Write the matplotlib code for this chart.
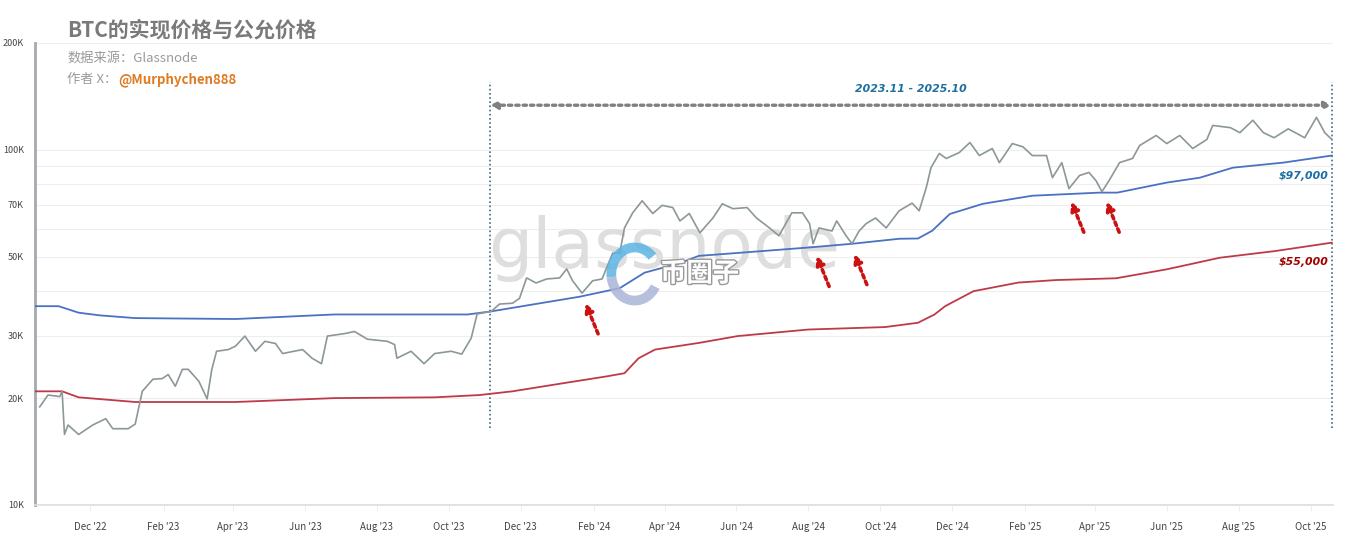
import matplotlib
matplotlib.use("Agg")
import matplotlib.pyplot as plt
import matplotlib.dates as mdates
import matplotlib.ticker as mticker
import matplotlib.patheffects as pe
from matplotlib.patches import Arc
import pandas as pd

plt.rcParams["font.family"] = ["Noto Sans CJK SC", "DejaVu Sans"]

# --- Data (values in USD) ---
price_dates = [
    "2022-10-19", "2022-10-26", "2022-11-05", "2022-11-07", "2022-11-09", "2022-11-12",
    "2022-11-21", "2022-12-03", "2022-12-14", "2022-12-20", "2023-01-02", "2023-01-08",
    "2023-01-14", "2023-01-23", "2023-01-31", "2023-02-05", "2023-02-11", "2023-02-17",
    "2023-02-22", "2023-03-03", "2023-03-10", "2023-03-14", "2023-03-18", "2023-03-28",
    "2023-04-03", "2023-04-11", "2023-04-20", "2023-04-28", "2023-05-07", "2023-05-13",
    "2023-05-30", "2023-06-07", "2023-06-15", "2023-06-20", "2023-07-05", "2023-07-13",
    "2023-07-24", "2023-08-10", "2023-08-16", "2023-08-18", "2023-08-30", "2023-09-10",
    "2023-09-19", "2023-10-03", "2023-10-12", "2023-10-20", "2023-10-25", "2023-11-06",
    "2023-11-13", "2023-11-24", "2023-11-30", "2023-12-06", "2023-12-14", "2023-12-23",
    "2024-01-03", "2024-01-09", "2024-01-14", "2024-01-22", "2024-01-31", "2024-02-08",
    "2024-02-17", "2024-02-23", "2024-02-27", "2024-03-05", "2024-03-13", "2024-03-22",
    "2024-03-30", "2024-04-08", "2024-04-14", "2024-04-22", "2024-05-01", "2024-05-12",
    "2024-05-20", "2024-05-29", "2024-06-10", "2024-06-18", "2024-06-29", "2024-07-07",
    "2024-07-18", "2024-07-27", "2024-08-02", "2024-08-05", "2024-08-10", "2024-08-21",
    "2024-08-25", "2024-09-02", "2024-09-07", "2024-09-13", "2024-09-19", "2024-09-27",
    "2024-10-06", "2024-10-17", "2024-10-28", "2024-11-03", "2024-11-09", "2024-11-13",
    "2024-11-20", "2024-11-26", "2024-12-07", "2024-12-16", "2024-12-24", "2025-01-04",
    "2025-01-10", "2025-01-21", "2025-01-30", "2025-02-07", "2025-02-19", "2025-02-24",
    "2025-03-04", "2025-03-10", "2025-03-19", "2025-03-27", "2025-04-02", "2025-04-07",
    "2025-04-13", "2025-04-22", "2025-05-03", "2025-05-09", "2025-05-23", "2025-06-01",
    "2025-06-12", "2025-06-23", "2025-07-05", "2025-07-10", "2025-07-25", "2025-08-02",
    "2025-08-13", "2025-08-22", "2025-08-31", "2025-09-12", "2025-09-26", "2025-10-06",
    "2025-10-13", "2025-10-19",
]
price_values = [
    18900, 20400, 20200, 20900, 15800, 16800,
    15800, 16800, 17500, 16400, 16400, 16900,
    20900, 22600, 22700, 23300, 21600, 24100,
    24100, 22300, 19900, 24100, 27100, 27400,
    28000, 29900, 27100, 28900, 28500, 26700,
    27400, 25900, 25000, 29900, 30400, 30800,
    29300, 28900, 28300, 25900, 27100, 25000,
    26700, 27100, 26600, 29500, 34500, 35100,
    36800, 37000, 38200, 43600, 42200, 43300,
    43600, 46200, 42800, 39500, 42800, 43300,
    51200, 51200, 60300, 66500, 71900, 66200,
    69800, 68800, 63100, 66200, 58400, 64300,
    70500, 68300, 68800, 64300, 60300, 57300,
    66500, 66500, 62000, 54400, 60300, 59100,
    63100, 57300, 54400, 59100, 62000, 64300,
    60300, 67400, 70800, 67400, 78300, 89100,
    97700, 94600, 98300, 104900, 96400, 100900,
    92100, 104200, 102000, 96400, 96400, 83500,
    92100, 77800, 84700, 86400, 81900, 76300,
    81900, 92100, 94600, 102900, 109800, 104200,
    109800, 100900, 107000, 117200, 115500, 111800,
    121200, 111800, 108200, 114600, 108200, 123500,
    111800, 107000,
]

fair_dates = [
    "2022-10-15", "2022-11-04", "2022-11-21", "2022-12-09", "2023-01-08", "2023-04-03",
    "2023-06-26", "2023-08-22", "2023-10-17", "2023-11-06", "2024-01-20", "2024-02-23",
    "2024-03-15", "2024-04-14", "2024-04-30", "2024-06-10", "2024-08-01", "2024-09-07",
    "2024-10-17", "2024-11-02", "2024-11-14", "2024-11-29", "2024-12-27", "2025-02-07",
    "2025-04-05", "2025-04-20", "2025-06-01", "2025-06-29", "2025-07-27", "2025-09-08",
    "2025-10-19",
]
fair_values = [
    36300, 36300, 34800, 34200, 33600, 33400,
    34400, 34400, 34400, 35100, 38600, 40800,
    45100, 48000, 50300, 51500, 53100, 54400,
    56200, 56300, 59200, 66000, 70500, 74300,
    75800, 75800, 80900, 83500, 89100, 92100,
    96400,
]

realized_dates = [
    "2022-10-15", "2022-11-07", "2022-11-21", "2023-01-08", "2023-04-03", "2023-06-26",
    "2023-09-19", "2023-10-27", "2023-11-24", "2024-01-05", "2024-02-11", "2024-02-27",
    "2024-03-10", "2024-03-24", "2024-04-30", "2024-06-02", "2024-08-01", "2024-10-05",
    "2024-11-02", "2024-11-16", "2024-11-25", "2024-12-19", "2025-01-26", "2025-02-27",
    "2025-04-19", "2025-06-01", "2025-07-16", "2025-09-01", "2025-10-19",
]
realized_values = [
    20900, 20900, 20100, 19500, 19500, 20000,
    20100, 20400, 20900, 22000, 23000, 23500,
    25900, 27400, 28600, 29900, 31200, 31700,
    32600, 34400, 36300, 40000, 42300, 43000,
    43500, 46100, 49700, 51900, 54800,
]

# points where price touched the fair-price line
touch_dates = ["2024-01-25", "2024-08-08", "2024-09-09", "2025-03-12", "2025-04-11"]
touch_values = [37000, 50300, 50900, 71500, 71500]

range_start, range_end = "2023-11-05", "2025-10-19"
range_label = "2023.11 - 2025.10"
fair_label, realized_label = "$97,000", "$55,000"

y_ticks = [10000, 20000, 30000, 50000, 70000, 100000, 200000]
y_tick_labels = ["10K", "20K", "30K", "50K", "70K", "100K", "200K"]

# --- Figure ---
fig = plt.figure(figsize=(13.57, 5.47), dpi=100)
ax = fig.add_axes([35 / 1357, 1 - 505 / 547, 1298 / 1357, 462 / 547])

pdates = pd.to_datetime(price_dates)
fdates = pd.to_datetime(fair_dates)
rdates = pd.to_datetime(realized_dates)

ax.set_yscale("log")
ax.set_ylim(10000, 200000)
ax.set_xlim(pd.Timestamp("2022-10-15"), pd.Timestamp("2025-10-20"))

# faint horizontal grid
for g in [20000, 30000, 40000, 50000, 60000, 70000, 80000, 90000, 100000, 200000]:
    ax.axhline(g, color="#eeeeee", lw=0.8, zorder=0)

# watermarks
ax.text(0.485, 0.555, "glassnode", transform=ax.transAxes, fontsize=50,
        color="#dedede", ha="center", va="center", family="DejaVu Sans", zorder=1)
ax.add_patch(Arc((0.462, 0.50), 0.036, 0.115, theta1=70, theta2=200, transform=ax.transAxes,
                 color="#5ab4e5", lw=7, alpha=0.85, zorder=5))
ax.add_patch(Arc((0.462, 0.50), 0.036, 0.115, theta1=200, theta2=300, transform=ax.transAxes,
                 color="#a9b4d6", lw=7, alpha=0.85, zorder=5))
ax.text(0.512, 0.50, "币圈子", transform=ax.transAxes, fontsize=19, fontweight="bold",
        color="white", ha="center", va="center", zorder=6,
        path_effects=[pe.withStroke(linewidth=2, foreground="#9a9a9a")])

ax.plot(rdates, realized_values, color="#bf3a48", lw=1.3, zorder=3)
ax.plot(fdates, fair_values, color="#4a72c4", lw=1.3, zorder=3)
ax.plot(pdates, price_values, color="#8c9799", lw=1.2, zorder=4)

# range markers
for d in [range_start, range_end]:
    ax.axvline(pd.Timestamp(d), ymin=0.167, ymax=0.915, color="#3f6b86", ls=(0, (1, 1.5)),
               lw=1.2, zorder=2)
ax.annotate("", xy=(pd.Timestamp(range_end), 133600), xytext=(pd.Timestamp(range_start), 133600),
            arrowprops=dict(arrowstyle="<|-|>", color="#808080", lw=2.4, ls=(0, (1, 1.2)),
                            mutation_scale=10, shrinkA=0, shrinkB=0))
mid = pd.Timestamp(range_start) + (pd.Timestamp(range_end) - pd.Timestamp(range_start)) / 2
ax.text(mid, 148000, range_label, color="#1f6f9f", fontsize=7.8, fontweight="bold",
        style="italic", ha="center", va="center", family="DejaVu Sans")

# touch arrows
for d, v in zip(touch_dates, touch_values):
    ax.annotate("", xy=(pd.Timestamp(d), v), xytext=(9, -22), textcoords="offset points",
                arrowprops=dict(arrowstyle="-|>", color="#cc1111", lw=2.6, ls=(0, (1, 1)),
                                mutation_scale=12, shrinkA=0, shrinkB=0), zorder=5)

ax.text(pd.Timestamp("2025-10-16"), 84500, fair_label, color="#1a6fa0", fontsize=7.8,
        fontweight="bold", style="italic", ha="right", va="center", family="DejaVu Sans")
ax.text(pd.Timestamp("2025-10-16"), 48400, realized_label, color="#a00000", fontsize=7.8,
        fontweight="bold", style="italic", ha="right", va="center", family="DejaVu Sans")

# axes styling
ax.yaxis.set_major_locator(mticker.FixedLocator(y_ticks))
ax.yaxis.set_major_formatter(mticker.FixedFormatter(y_tick_labels))
ax.yaxis.set_minor_locator(mticker.NullLocator())
ax.tick_params(axis="y", length=0, pad=8, labelsize=6.5, labelcolor="#444444")
ax.xaxis.set_major_locator(mdates.MonthLocator(bymonth=[2, 4, 6, 8, 10, 12]))
ax.xaxis.set_major_formatter(mdates.DateFormatter("%b '%y"))
ax.tick_params(axis="x", length=4, color="#eeeeee", pad=8, labelsize=7, labelcolor="#444444")
for s in ["top", "right"]:
    ax.spines[s].set_visible(False)
ax.spines["left"].set_color("#a6a9ad")
ax.spines["left"].set_linewidth(2)
ax.spines["bottom"].set_color("#dddddd")
ax.spines["bottom"].set_linewidth(1.2)

# titles
fig.text(67 / 1357, 1 - 30 / 547, "BTC的实现价格与公允价格", fontsize=15, fontweight="bold",
         color="#7a7a7a", ha="left", va="center")
fig.text(67 / 1357, 1 - 58 / 547, "数据来源：Glassnode", fontsize=9.5,
         color="#9a9a9a", ha="left", va="center")
fig.text(67 / 1357, 1 - 80 / 547, "作者 X：", fontsize=9.5,
         color="#9a9a9a", ha="left", va="center")
fig.text(118 / 1357, 1 - 80 / 547, "@Murphychen888", fontsize=9.5, fontweight="bold",
         color="#e07b22", ha="left", va="center")

fig.savefig("out.png", dpi=100, facecolor="white")
